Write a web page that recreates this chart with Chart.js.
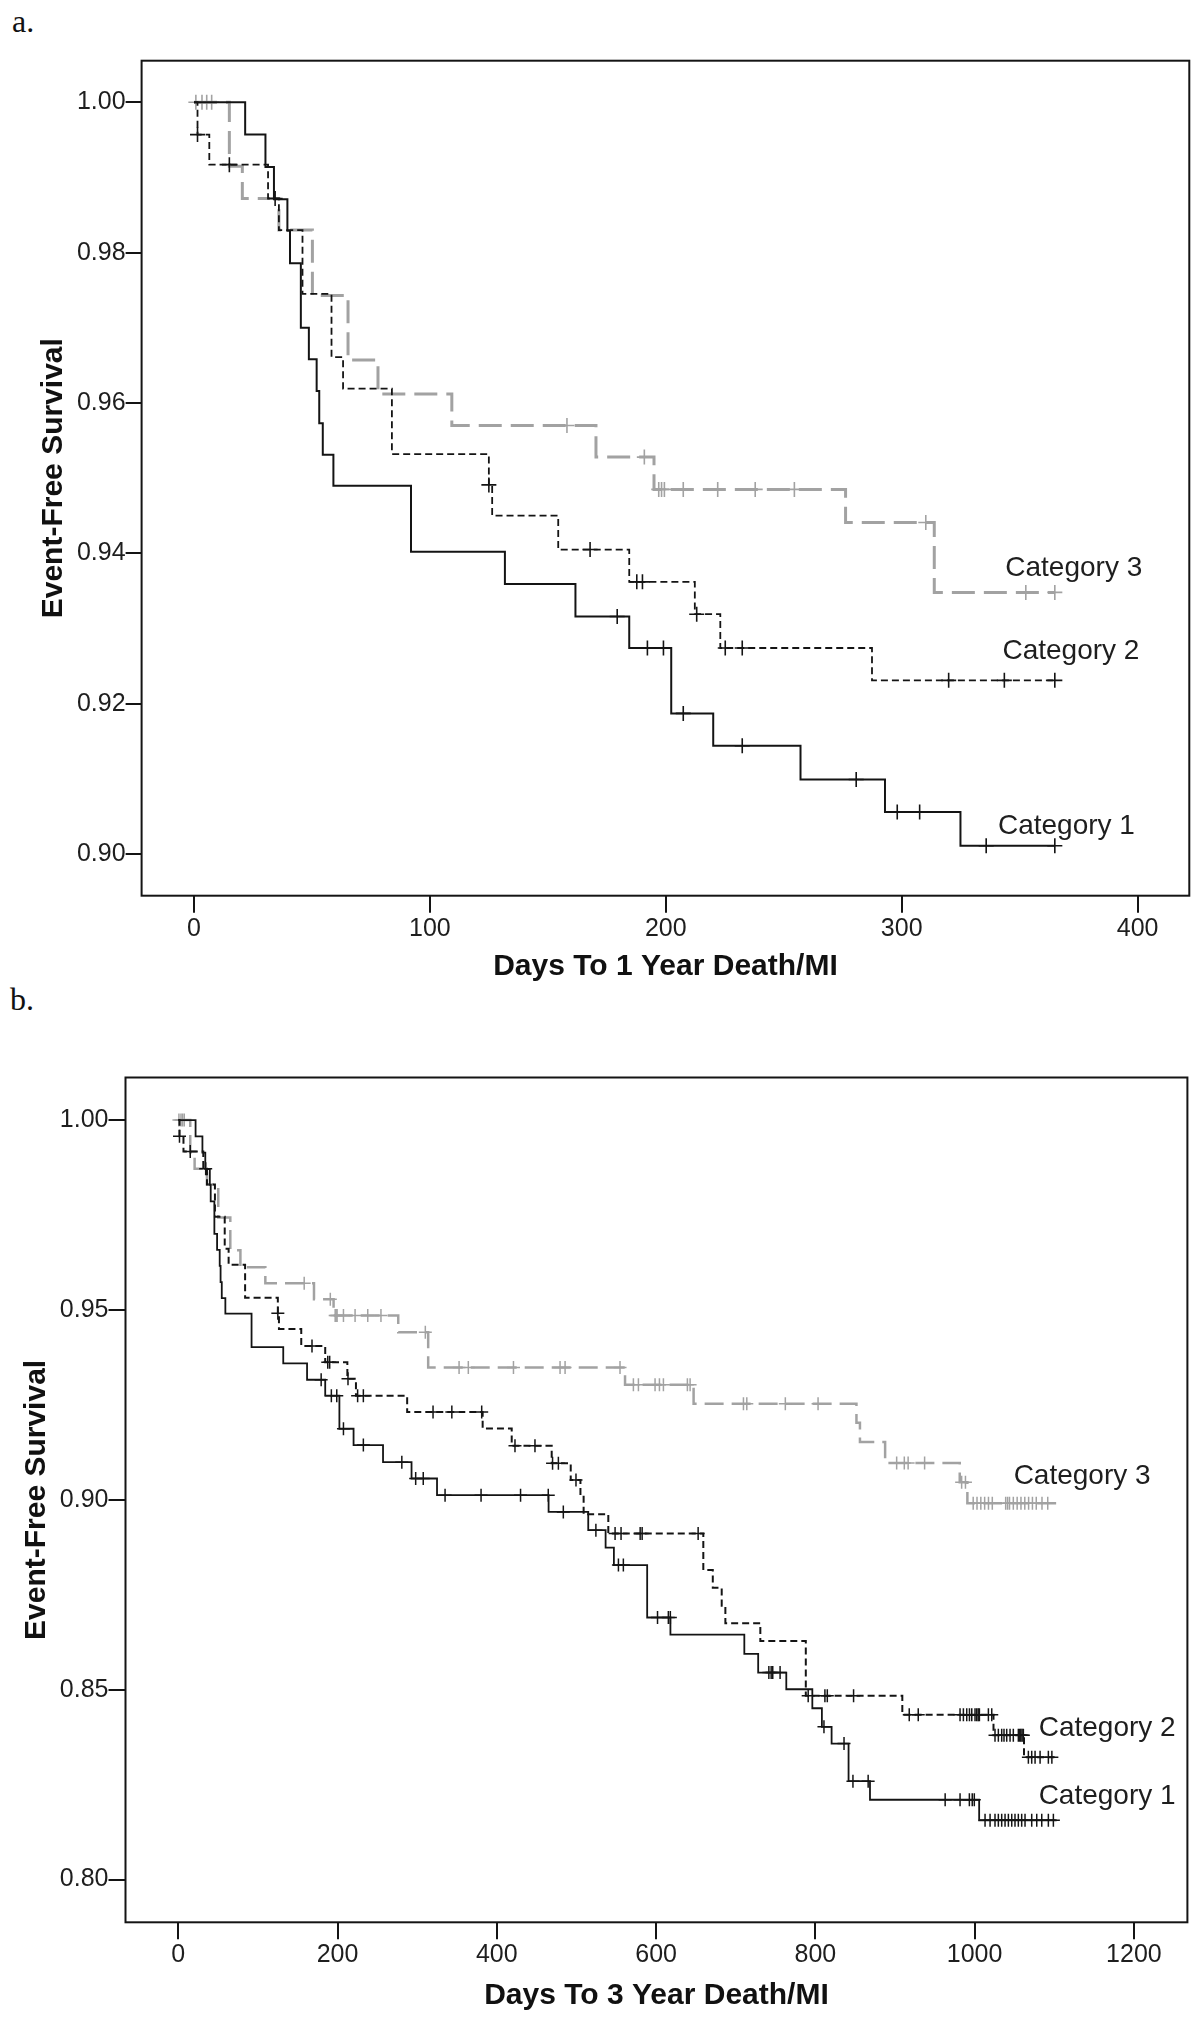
<!DOCTYPE html>
<html>
<head>
<meta charset="utf-8">
<script src="https://cdn.jsdelivr.net/npm/chart.js@4.4.1/dist/chart.umd.min.js"></script>
<style>
  html, body { margin: 0; padding: 0; background: #ffffff; }
  body { width: 1200px; height: 2034px; position: relative; overflow: hidden; }
  .panel-label { position: absolute; font-family: "Liberation Serif", "Times New Roman", serif; font-size: 32px; line-height: 32px; color: #111; }
  canvas { position: absolute; left: 0; }
</style>
</head>
<body>
<div class="panel-label" style="left:12px; top:5px;">a.</div>
<div class="panel-label" style="left:10px; top:983px;">b.</div>
<canvas id="chartA" width="1200" height="1000" style="top:0px; width:1200px; height:1000px;"></canvas>
<canvas id="chartB" width="1200" height="1034" style="top:1000px; width:1200px; height:1034px;"></canvas>
<script>
// ---------------- DATA ----------------
const CATEGORIES = ['Category 1', 'Category 2', 'Category 3'];

// Panel a: days to 1-year death/MI
const A_X_TICKS = [0, 100, 200, 300, 400];
const A_Y_TICKS = [0.90, 0.92, 0.94, 0.96, 0.98, 1.00];
const A_X_TITLE = 'Days To 1 Year Death/MI';
const A_Y_TITLE = 'Event-Free Survival';

const A_CAT1_T = [0, 21.7, 30.3, 33.9, 39.6, 40.7, 45.3, 48.7, 52.0, 53.1, 54.6, 59.1, 92.0, 131.8, 161.7, 184.5, 202.3, 220.1, 257.1, 292.9, 324.9, 365.0];
const A_CAT1_S = [1.0, 0.9957, 0.9914, 0.9871, 0.9829, 0.9786, 0.9700, 0.9658, 0.9616, 0.9573, 0.9531, 0.9490, 0.9402, 0.9359, 0.9316, 0.9274, 0.9187, 0.9144, 0.9099, 0.9056, 0.9011, 0.9011];
const A_CAT1_C = [179.4, 192.2, 199.0, 207.4, 232.4, 280.7, 298.1, 307.6, 335.8, 364.9];

const A_CAT2_T = [0, 1.5, 6.5, 31.4, 36.0, 46.0, 58.3, 63.2, 83.9, 125.0, 126.4, 154.4, 184.5, 212.3, 223.1, 287.4, 365.0];
const A_CAT2_S = [1.0, 0.9957, 0.9917, 0.9872, 0.9830, 0.9745, 0.9661, 0.9619, 0.9532, 0.9491, 0.9450, 0.9405, 0.9362, 0.9319, 0.9274, 0.9231, 0.9231];
const A_CAT2_C = [1.5, 15.0, 34.4, 125.0, 167.9, 187.7, 190.1, 213.1, 225.2, 232.4, 319.9, 343.5, 364.9];

const A_CAT3_T = [0, 15.0, 20.5, 36.0, 50.2, 65.3, 78.0, 109.3, 170.4, 195.0, 276.2, 313.8, 365.0];
const A_CAT3_S = [1.0, 0.9915, 0.9872, 0.9830, 0.9743, 0.9657, 0.9612, 0.9570, 0.9528, 0.9485, 0.9441, 0.9348, 0.9348];
const A_CAT3_C = [0.8, 3.4, 5.4, 7.5, 158.1, 190.9, 197.0, 198.2, 199.4, 207.4, 222.0, 237.9, 254.5, 310.2, 352.6, 364.9];

const A_LABEL_X = [340.8, 342.7, 343.9];
const A_LABEL_Y = [0.9037, 0.9269, 0.9380];

// Panel b: days to 3-year death/MI
const B_X_TICKS = [0, 200, 400, 600, 800, 1000, 1200];
const B_Y_TICKS = [0.80, 0.85, 0.90, 0.95, 1.00];
const B_X_TITLE = 'Days To 3 Year Death/MI';
const B_Y_TITLE = 'Event-Free Survival';

const B_CAT1_T = [0, 21.7, 30.3, 33.9, 39.6, 40.7, 45.3, 48.7, 52.0, 53.1, 54.6, 59.1, 92.0, 131.8, 161.7, 184.5, 202.3, 220.1, 257.1, 292.9, 324.9, 465.0, 514.8, 536.6, 547.0, 588.8, 618.0, 710.8, 728.2, 763.5, 796.2, 808.2, 820.4, 841.7, 868.6, 1005.7, 1103.0];
const B_CAT1_S = [1.0, 0.9957, 0.9914, 0.9871, 0.9829, 0.9786, 0.9700, 0.9658, 0.9616, 0.9573, 0.9531, 0.9490, 0.9402, 0.9359, 0.9316, 0.9274, 0.9187, 0.9144, 0.9099, 0.9056, 0.9012, 0.8968, 0.8920, 0.8874, 0.8828, 0.8690, 0.8645, 0.8594, 0.8545, 0.8501, 0.8451, 0.8402, 0.8358, 0.8259, 0.8210, 0.8156, 0.8156];
const B_CAT1_C = [179.4, 192.2, 199.0, 207.4, 232.4, 280.7, 298.1, 307.6, 335.0, 380.2, 429.8, 464.6, 483.5, 524.4, 552.7, 558.9, 601.8, 615.4, 617.9, 741.6, 744.5, 746.5, 755.7, 810.8, 836.0, 847.2, 866.3, 963.0, 981.7, 993.4, 997.0, 999.6, 1013.1, 1019.4, 1025.6, 1029.8, 1034.0, 1038.2, 1042.4, 1046.6, 1050.7, 1054.9, 1059.1, 1063.3, 1071.7, 1078.0, 1084.3, 1092.6, 1098.9];

const B_CAT2_T = [0, 1.5, 6.5, 31.4, 36.0, 46.0, 58.3, 63.2, 83.9, 125.0, 126.4, 154.4, 184.5, 212.3, 223.1, 287.4, 382.2, 418.7, 468.9, 492.8, 505.0, 509.0, 540.0, 659.3, 671.2, 682.4, 687.0, 730.9, 788.0, 909.2, 1023.7, 1062.0, 1100.0];
const B_CAT2_S = [1.0, 0.9957, 0.9917, 0.9872, 0.9830, 0.9745, 0.9661, 0.9619, 0.9532, 0.9491, 0.9450, 0.9405, 0.9362, 0.9319, 0.9274, 0.9231, 0.9188, 0.9142, 0.9096, 0.9052, 0.9008, 0.8962, 0.8911, 0.8815, 0.8768, 0.8721, 0.8675, 0.8628, 0.8484, 0.8434, 0.8380, 0.8322, 0.8322];
const B_CAT2_C = [1.5, 15.0, 34.4, 125.0, 167.9, 187.7, 190.1, 213.1, 225.2, 232.4, 319.9, 343.5, 381.0, 422.8, 447.9, 470.0, 477.3, 499.4, 548.5, 556.0, 580.0, 582.5, 652.8, 791.0, 812.0, 815.0, 848.0, 917.9, 929.2, 981.7, 985.9, 990.1, 993.5, 996.4, 1000.5, 1002.6, 1004.5, 1006.0, 1017.3, 1021.5, 1025.6, 1029.8, 1034.0, 1036.9, 1040.3, 1044.5, 1048.6, 1054.9, 1056.5, 1058.0, 1059.6, 1061.2, 1067.5, 1071.7, 1075.9, 1082.2, 1092.6, 1097.0];

const B_CAT3_T = [0, 15.0, 20.5, 36.0, 50.2, 65.3, 78.0, 109.3, 170.4, 195.0, 276.2, 313.8, 561.0, 647.1, 851.6, 856.0, 887.6, 981.3, 990.9, 1103.8];
const B_CAT3_S = [1.0, 0.9915, 0.9872, 0.9830, 0.9743, 0.9657, 0.9612, 0.9570, 0.9528, 0.9485, 0.9441, 0.9348, 0.9303, 0.9253, 0.9203, 0.9152, 0.9097, 0.9046, 0.8991, 0.8991];
const B_CAT3_C = [0.8, 3.4, 5.4, 7.5, 158.1, 190.9, 197.0, 198.2, 199.4, 207.4, 222.0, 237.9, 254.5, 310.2, 352.6, 364.2, 420.9, 479.4, 485.7, 554.7, 571.5, 577.8, 598.7, 604.2, 609.2, 639.3, 642.7, 709.7, 713.9, 762.3, 803.4, 902.1, 911.7, 916.5, 937.2, 983.7, 988.5, 998.2, 1003.0, 1007.8, 1012.6, 1017.4, 1022.2, 1039.0, 1041.4, 1043.8, 1048.6, 1053.4, 1058.2, 1063.0, 1067.8, 1072.6, 1077.4, 1084.6, 1091.8];

const B_LABEL_X = [1080.4, 1080.5, 1049.0];
const B_LABEL_Y = [0.8218, 0.8398, 0.9061];

// ---------------- RENDERING ----------------
const FONT = "'Liberation Sans', Arial, Helvetica, sans-serif";
Chart.defaults.font.family = FONT;
Chart.defaults.color = '#1e1e1e';

const BLACK = '#141414';
const GRAY = '#a2a2a2';

function valueAt(t, s, c) {
  let v = s[0];
  for (let i = 0; i < t.length; i++) { if (t[i] <= c) v = s[i]; }
  return v;
}

function buildDatasets(series, styles) {
  const ds = [];
  series.forEach((sr, i) => {
    const st = styles[i];
    ds.push({
      type: 'line',
      label: CATEGORIES[i],
      data: sr.t.map((x, j) => ({ x: x, y: sr.s[j] })),
      stepped: 'before',
      borderColor: st.color,
      borderWidth: st.width,
      borderDash: st.dash,
      borderCapStyle: 'butt',
      borderJoinStyle: 'miter',
      pointRadius: 0,
      pointHoverRadius: 0,
      fill: false,
      tension: 0,
      order: i * 2 + 1
    });
    ds.push({
      type: 'line',
      label: CATEGORIES[i] + ' censored',
      showLine: false,
      data: sr.c.map(x => ({ x: x, y: valueAt(sr.t, sr.s, x) })),
      pointStyle: 'cross',
      pointRadius: st.r,
      pointHoverRadius: st.r,
      pointBorderColor: st.color,
      pointBackgroundColor: st.color,
      pointBorderWidth: st.mw,
      order: i * 2
    });
  });
  return ds;
}

function makeChart(canvasId, g, series, styles, xTicks, yTicks, xTitle, yTitle, labelX, labelY, yDigits) {
  const annot = {
    id: 'kmAnnot_' + canvasId,
    afterDraw(chart) {
      const { ctx, chartArea: a, scales } = chart;
      ctx.save();
      ctx.strokeStyle = BLACK;
      ctx.lineWidth = 2;
      ctx.strokeRect(a.left, a.top, a.right - a.left, a.bottom - a.top);
      ctx.fillStyle = '#1e1e1e';
      ctx.font = '28px ' + FONT;
      ctx.textAlign = 'left';
      ctx.textBaseline = 'middle';
      CATEGORIES.forEach((txt, i) => {
        ctx.fillText(txt, scales.x.getPixelForValue(labelX[i]), scales.y.getPixelForValue(labelY[i]));
      });
      ctx.restore();
    }
  };
  return new Chart(document.getElementById(canvasId), {
    type: 'line',
    data: { datasets: buildDatasets(series, styles) },
    plugins: [annot],
    options: {
      responsive: false,
      animation: false,
      devicePixelRatio: 1,
      events: [],
      layout: { padding: { left: 0, top: g.top, right: g.padRight, bottom: 0 } },
      plugins: { legend: { display: false }, tooltip: { enabled: false }, title: { display: false } },
      scales: {
        x: {
          type: 'linear',
          min: g.xMin, max: g.xMax,
          afterBuildTicks: s => { s.ticks = xTicks.map(v => ({ value: v })); },
          afterFit: s => { s.height = g.xAxisH; },
          ticks: { autoSkip: false, maxRotation: 0, minRotation: 0, padding: 1, color: '#1e1e1e',
                   font: { size: 25 }, callback: v => String(v) },
          grid: { display: true, drawOnChartArea: false, drawTicks: true, tickLength: 17,
                  tickWidth: 2, tickColor: BLACK, color: BLACK, lineWidth: 2 },
          border: { display: false },
          title: { display: true, text: xTitle, color: '#111', font: { size: 30, weight: 'bold' },
                   padding: { top: 0, bottom: g.xTitlePad } }
        },
        y: {
          type: 'linear',
          min: g.yMin, max: g.yMax,
          afterBuildTicks: s => { s.ticks = yTicks.map(v => ({ value: v })); },
          afterFit: s => { s.width = g.left; },
          ticks: { autoSkip: false, padding: 0, color: '#1e1e1e', font: { size: 25 },
                   callback: v => Number(v).toFixed(yDigits) },
          grid: { display: true, drawOnChartArea: false, drawTicks: true, tickLength: g.yTickLen,
                  tickWidth: 2, tickColor: BLACK, color: BLACK, lineWidth: 2 },
          border: { display: false },
          title: { display: true, text: yTitle, color: '#111', font: { size: 30, weight: 'bold' },
                   padding: { top: g.yTitlePad, bottom: 0 } }
        }
      }
    }
  });
}

// Panel a
makeChart('chartA',
  { left: 141.6, top: 60.7, padRight: 10.7, xAxisH: 104.3, xMin: -22.2, xMax: 421.9,
    yMin: 0.89445, yMax: 1.00553, yTickLen: 16, xTitlePad: 15, yTitlePad: 35.5 },
  [ { t: A_CAT1_T, s: A_CAT1_S, c: A_CAT1_C },
    { t: A_CAT2_T, s: A_CAT2_S, c: A_CAT2_C },
    { t: A_CAT3_T, s: A_CAT3_S, c: A_CAT3_C } ],
  [ { color: BLACK, width: 2, dash: [], r: 7.5, mw: 1.6 },
    { color: BLACK, width: 1.8, dash: [7, 4], r: 7.5, mw: 1.6 },
    { color: GRAY, width: 3, dash: [23, 9], r: 7.5, mw: 1.6 } ],
  A_X_TICKS, A_Y_TICKS, A_X_TITLE, A_Y_TITLE, A_LABEL_X, A_LABEL_Y, 2);

// Panel b
makeChart('chartB',
  { left: 125.5, top: 77.5, padRight: 12.6, xAxisH: 111.7, xMin: -66.3, xMax: 1267.2,
    yMin: 0.78873, yMax: 1.0112, yTickLen: 17, xTitlePad: 20, yTitlePad: 18.5 },
  [ { t: B_CAT1_T, s: B_CAT1_S, c: B_CAT1_C },
    { t: B_CAT2_T, s: B_CAT2_S, c: B_CAT2_C },
    { t: B_CAT3_T, s: B_CAT3_S, c: B_CAT3_C } ],
  [ { color: BLACK, width: 1.8, dash: [], r: 6.5, mw: 1.5 },
    { color: BLACK, width: 2, dash: [7, 4], r: 6.5, mw: 1.5 },
    { color: GRAY, width: 2.5, dash: [19, 8], r: 6.5, mw: 1.5 } ],
  B_X_TICKS, B_Y_TICKS, B_X_TITLE, B_Y_TITLE, B_LABEL_X, B_LABEL_Y, 2);
</script>
</body>
</html>
